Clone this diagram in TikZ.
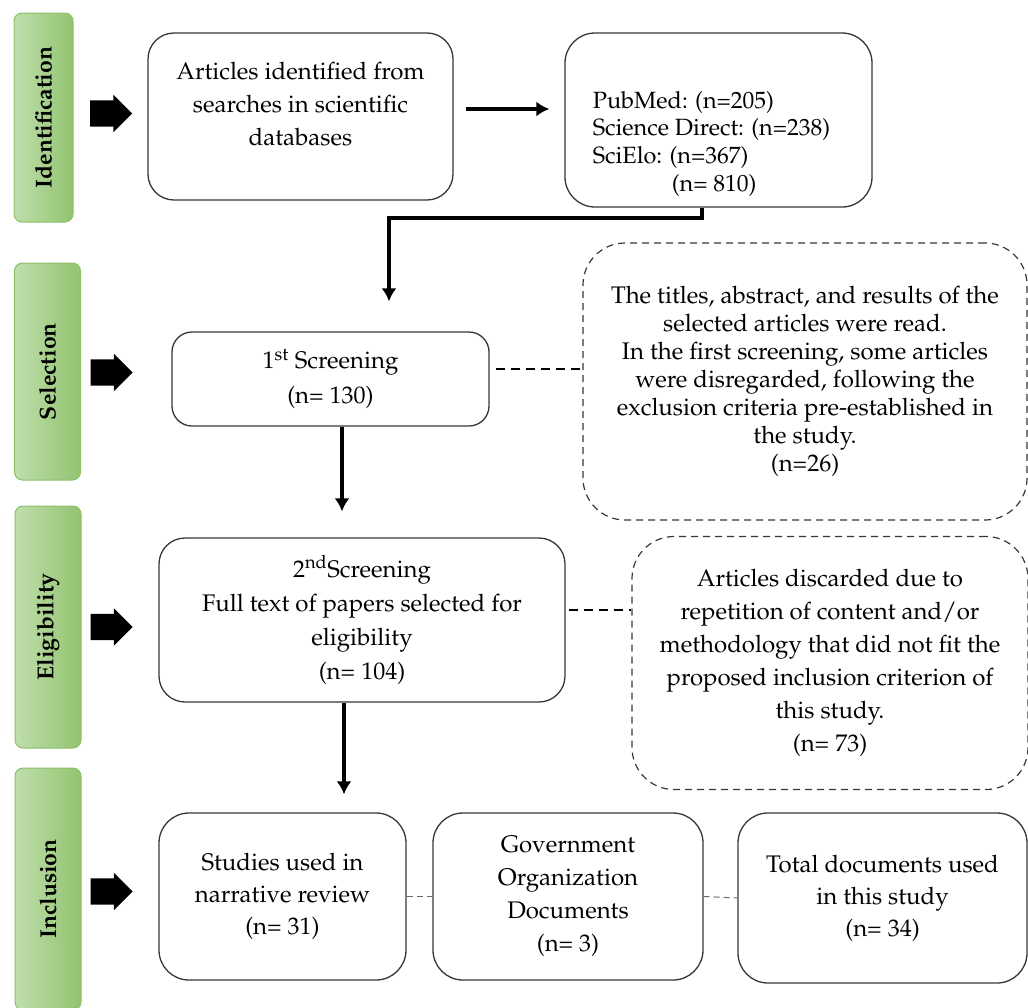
\documentclass[tikz,border=0pt]{standalone}
\usepackage[T1]{fontenc}
\usepackage{mathpazo}
\usepackage{tikz}
\usetikzlibrary{positioning,arrows.meta,shapes}

\definecolor{stagegreen}{RGB}{146,196,112}
\definecolor{stagelight}{RGB}{192,222,172}
\definecolor{stageedge}{RGB}{138,192,104}
\definecolor{boxedge}{RGB}{55,55,55}

\tikzset{
	stage/.style={rectangle, rotate=90, rounded corners=8pt, draw=stageedge, line width=1pt, left color=stagelight, right color=stagegreen, inner sep=0pt, font=\bfseries\fontsize{23}{28}\selectfont},
	blockarrow/.style={single arrow, fill=black, draw=none, minimum height=42pt, inner xsep=0pt, inner ysep=13pt, single arrow head extend=5.5pt, single arrow tip angle=90},
	flowbox/.style={rectangle, draw=boxedge, line width=1.3pt, rounded corners=26pt, align=center, inner sep=0pt, font=\fontsize{24}{33}\selectfont},
	notebox/.style={rectangle, draw=boxedge, line width=1.2pt, dash pattern=on 7pt off 5pt, rounded corners=42pt, align=center, inner sep=0pt, font=\fontsize{24}{28}\selectfont},
	flowline/.style={line width=4pt, draw, -{Latex[length=13pt,width=15pt]}},
	linkline/.style={line width=2.2pt, dash pattern=on 9pt off 6pt},
	thinlink/.style={line width=1pt, draw=boxedge!75, dash pattern=on 6pt off 4pt}
}

\begin{document}
\begin{tikzpicture}[x=1pt, y=-1pt]
	\useasboundingbox (0,0) rectangle (1028,1007);

	% stages on the left
	\node[stage, minimum width=209pt, minimum height=59pt] (ident) at (43.5,117.5) {Identification};
	\node[stage, minimum width=217pt, minimum height=66pt] (select) at (47.5,371.5) {Selection};
	\node[stage, minimum width=242pt, minimum height=66pt] (elig) at (48,627) {Eligibility};
	\node[stage, minimum width=242pt, minimum height=66pt] (incl) at (48,889) {Inclusion};

	\node[blockarrow] (arrident) at (104.5,113.5) {};
	\node[blockarrow] (arrselect) at (105,372.5) {};
	\node[blockarrow] (arrelig) at (105,627) {};
	\node[blockarrow] (arrincl) at (105,891.5) {};

	% identification
	\node[flowbox, minimum width=305pt, minimum height=167pt] (search) at (300.5,116.5) {\raisebox{5pt}[0pt][0pt]{\begin{tabular}{@{}c@{}}Articles identified from\\searches in scientific\\databases\end{tabular}}};

	\node[flowbox, rounded corners=30pt, minimum width=307pt, minimum height=174pt, font=\fontsize{23.5}{27.7}\selectfont] (dbs) at (718.5,120) {\hspace*{-14pt}\raisebox{-30pt}[0pt][0pt]{\begin{tabular}{@{}l@{}}PubMed: (n=205)\\Science Direct: (n=238)\\SciElo: (n=367)\\\hspace*{79pt}(n= 810)\end{tabular}}};

	% selection
	\node[flowbox, rounded corners=20pt, minimum width=317pt, minimum height=94pt, font=\fontsize{24}{35}\selectfont] (screen1) at (330.5,379) {1\textsuperscript{st} Screening\\(n= 130)};

	\node[notebox, minimum width=444pt, minimum height=277pt] (note1) at (805,381.5) {The titles, abstract, and results of the\\selected articles were read.\\In the first screening, some articles\\were disregarded, following the\\exclusion criteria pre-established in\\the study.\\(n=26)};

	% eligibility
	\node[flowbox, minimum width=406pt, minimum height=164pt, font=\fontsize{24}{34}\selectfont] (screen2) at (362,620) {2\textsuperscript{nd}Screening\\Full text of papers selected for\\eligibility\\(n= 104)};

	\node[notebox, minimum width=396pt, minimum height=253pt, font=\fontsize{24}{33}\selectfont] (note2) at (830,663) {Articles discarded due to\\repetition of content and/or\\methodology that did not fit the\\proposed inclusion criterion of\\this study.\\(n= 73)};

	% inclusion
	\node[flowbox, rounded corners=30pt, minimum width=247pt, minimum height=167pt, font=\fontsize{24}{32}\selectfont] (studies) at (282.5,896.5) {Studies used in\\narrative review\\(n= 31)};

	\node[flowbox, rounded corners=30pt, minimum width=270pt, minimum height=167pt] (govt) at (568,896.5) {Government\\Organization\\Documents\\(n= 3)};

	\node[flowbox, rounded corners=30pt, minimum width=289pt, minimum height=170pt, font=\fontsize{24}{32}\selectfont] (total) at (882.5,898) {Total documents used\\in this study\\(n= 34)};

	% connectors
	\path [flowline, shorten <=12pt, shorten >=15pt] ([yshift=7.5pt]search.east) -- ([yshift=7.5pt]search.east -| dbs.west);
	\path [flowline, shorten >=30pt] ([xshift=-16.5pt]dbs.south) -- ++(0pt,-10pt) -| ([xshift=58.5pt]screen1.north);
	\path [flowline, shorten >=26pt] ([xshift=11.5pt]screen1.south) -- ([xshift=11.5pt]screen1.south |- screen2.north);
	\path [flowline, shorten >=18pt] ([xshift=-18pt]screen2.south) -- ([xshift=-18pt]screen2.south |- studies.north);

	\draw [linkline, shorten <=6pt] ([yshift=10pt]screen1.east) -- ([yshift=10pt]screen1.east -| note1.west);
	\draw [linkline, shorten <=3pt] ([yshift=10pt]screen2.east) -- ([yshift=10pt]screen2.east -| note2.west);
	\draw [thinlink] (studies.east) -- (govt.west);
	\draw [thinlink] (govt.east) -- (total.west);
\end{tikzpicture}
\end{document}
